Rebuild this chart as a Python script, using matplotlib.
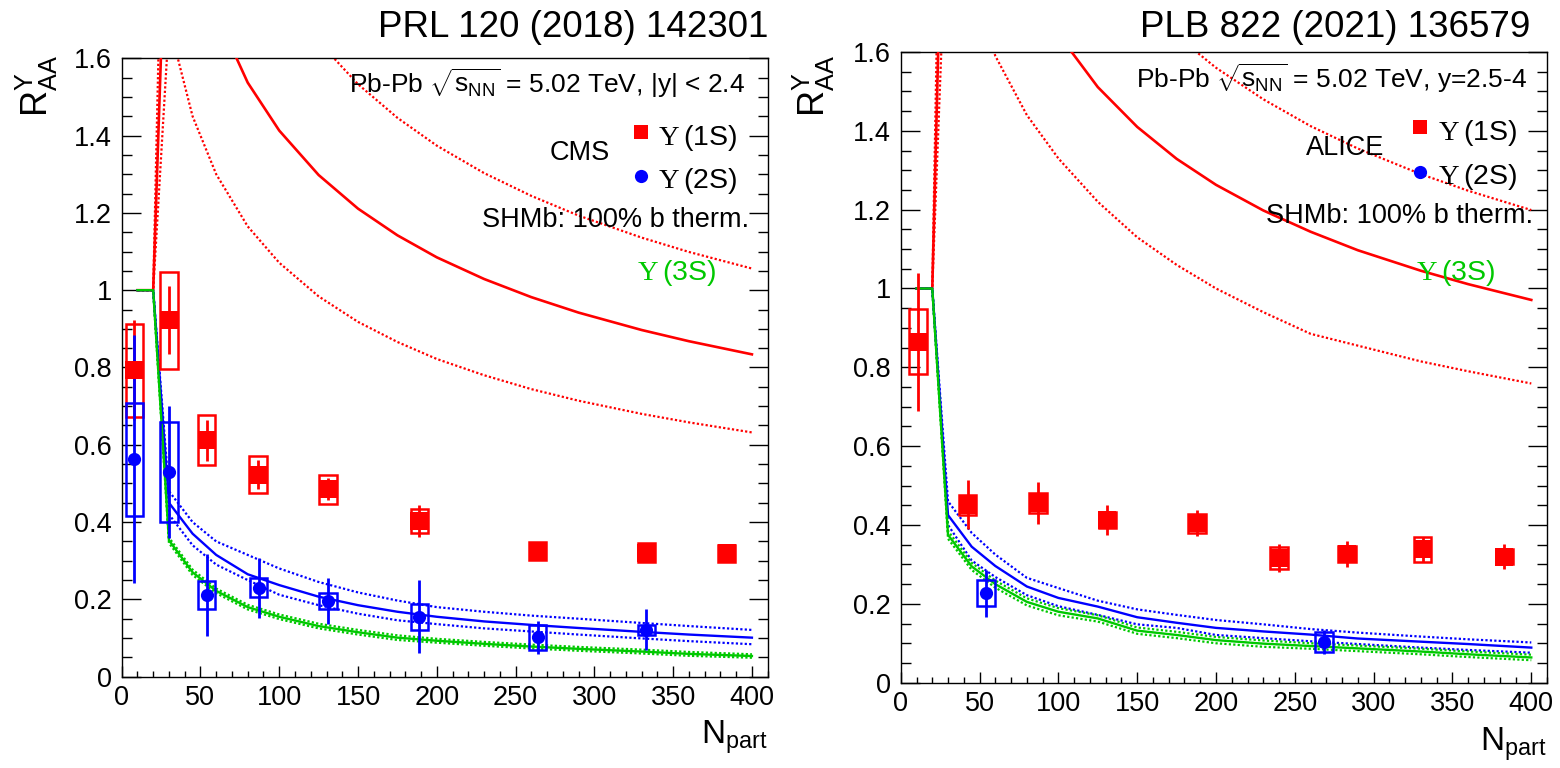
import matplotlib
matplotlib.use("Agg")
import matplotlib.pyplot as plt
from matplotlib.patches import Rectangle
from matplotlib.ticker import MultipleLocator, FuncFormatter

plt.rcParams['font.family'] = ['Liberation Sans', 'DejaVu Sans']
plt.rcParams['mathtext.fontset'] = 'custom'
plt.rcParams['mathtext.rm'] = 'Liberation Serif'
plt.rcParams['mathtext.sf'] = 'Liberation Sans'

# ---- SHMb model curves (N_part grid shared by both panels)
theory_npart = [10, 20, 30, 45, 60, 80, 100, 125, 150, 175, 200, 230, 260, 290, 330, 360, 400]

# CMS |y|<2.4
cms_1s_c = [1, 1, 2.23, 1.913, 1.715, 1.537, 1.413, 1.298, 1.211, 1.142, 1.085, 1.029, 0.982, 0.942, 0.897, 0.868, 0.834]
cms_1s_hi = [1, 1, 2.82, 2.42, 2.17, 1.946, 1.789, 1.643, 1.533, 1.446, 1.374, 1.303, 1.244, 1.193, 1.136, 1.099, 1.056]
cms_1s_lo = [1, 1, 1.69, 1.45, 1.30, 1.165, 1.071, 0.984, 0.918, 0.866, 0.822, 0.780, 0.744, 0.714, 0.680, 0.658, 0.632]
cms_2s_c = [1, 1, 0.45, 0.37, 0.315, 0.265, 0.237, 0.207, 0.185, 0.168, 0.155, 0.143, 0.134, 0.126, 0.116, 0.109, 0.101]
cms_2s_hi = [1, 1, 0.48, 0.40, 0.35, 0.315, 0.28, 0.245, 0.218, 0.197, 0.180, 0.168, 0.158, 0.150, 0.139, 0.131, 0.121]
cms_2s_lo = [1, 1, 0.42, 0.34, 0.29, 0.25, 0.212, 0.185, 0.163, 0.146, 0.136, 0.125, 0.117, 0.109, 0.099, 0.092, 0.084]
cms_3s_c = [1, 1, 0.353, 0.27, 0.222, 0.18, 0.155, 0.131, 0.115, 0.101, 0.093, 0.085, 0.078, 0.072, 0.065, 0.059, 0.0535]
cms_3s_hi = [1, 1, 0.36, 0.277, 0.228, 0.186, 0.161, 0.137, 0.121, 0.107, 0.098, 0.090, 0.083, 0.077, 0.070, 0.064, 0.058]
cms_3s_lo = [1, 1, 0.346, 0.263, 0.216, 0.174, 0.149, 0.125, 0.109, 0.095, 0.088, 0.080, 0.073, 0.067, 0.060, 0.054, 0.049]

# ALICE 2.5<y<4
alice_1s_c = [1, 1, 2.60, 2.23, 2.00, 1.79, 1.645, 1.511, 1.41, 1.329, 1.263, 1.198, 1.144, 1.097, 1.045, 1.011, 0.971]
alice_1s_hi = [1, 1, 3.21, 2.75, 2.465, 2.21, 2.03, 1.866, 1.741, 1.641, 1.56, 1.48, 1.412, 1.355, 1.29, 1.248, 1.199]
alice_1s_lo = [1, 1, 2.05, 1.78, 1.59, 1.44, 1.33, 1.22, 1.13, 1.06, 1.0, 0.94, 0.885, 0.855, 0.815, 0.79, 0.759]
alice_2s_c = [1, 1, 0.425, 0.345, 0.296, 0.244, 0.215, 0.193, 0.166, 0.152, 0.139, 0.130, 0.122, 0.112, 0.104, 0.098, 0.089]
alice_2s_hi = [1, 1, 0.46, 0.38, 0.325, 0.266, 0.24, 0.208, 0.186, 0.172, 0.159, 0.148, 0.136, 0.127, 0.117, 0.110, 0.102]
alice_2s_lo = [1, 1, 0.40, 0.31, 0.268, 0.222, 0.194, 0.172, 0.148, 0.139, 0.121, 0.113, 0.105, 0.098, 0.089, 0.083, 0.076]
alice_3s_c = [1, 1, 0.375, 0.295, 0.25, 0.205, 0.18, 0.163, 0.132, 0.121, 0.108, 0.099, 0.093, 0.087, 0.079, 0.072, 0.064]
alice_3s_hi = [1, 1, 0.385, 0.304, 0.259, 0.214, 0.189, 0.171, 0.140, 0.129, 0.116, 0.107, 0.100, 0.094, 0.086, 0.079, 0.071]
alice_3s_lo = [1, 1, 0.365, 0.286, 0.241, 0.196, 0.171, 0.155, 0.124, 0.113, 0.100, 0.091, 0.086, 0.080, 0.072, 0.065, 0.057]

# ---- data points
cms_1s_npart = [8, 30, 54, 86.5, 131, 189, 264, 333, 384]
cms_1s_raa = [0.793, 0.922, 0.612, 0.523, 0.485, 0.402, 0.325, 0.321, 0.32]
cms_1s_stat = [0.13, 0.088, 0.053, 0.038, 0.028, 0.041, 0.01, 0.01, 0.008]
cms_1s_syst = [0.12, 0.125, 0.065, 0.048, 0.038, 0.031, 0.023, 0.024, 0.022]

cms_2s_npart = [8, 30, 54, 87, 131, 189, 264, 333]
cms_2s_raa = [0.563, 0.530, 0.211, 0.230, 0.196, 0.155, 0.102, 0.121]
cms_2s_stat = [0.32, 0.17, 0.106, 0.078, 0.06, 0.094, 0.043, 0.053]
cms_2s_syst = [0.146, 0.13, 0.037, 0.025, 0.02, 0.034, 0.033, 0.013]

alice_1s_npart = [11, 42.5, 87, 131, 188, 240, 283, 331, 383]
alice_1s_raa = [0.865, 0.451, 0.456, 0.413, 0.404, 0.317, 0.326, 0.338, 0.32]
alice_1s_stat = [0.175, 0.062, 0.054, 0.038, 0.033, 0.036, 0.033, 0.032, 0.031]
alice_1s_syst = [0.083, 0.025, 0.025, 0.02, 0.025, 0.028, 0.02, 0.032, 0.02]

alice_2s_npart = [54, 268.5]
alice_2s_raa = [0.227, 0.104]
alice_2s_stat = [0.06, 0.03]
alice_2s_syst = [0.033, 0.025]

RED = '#ff0000'
BLUE = '#0000ff'
GREEN = '#00c800'
W, H = 1560, 768


def px(x, y):
    # pixel position -> figure fraction
    return x / W, 1 - y / H


def style_axes(ax):
    ax.set_xlim(0, 410)
    ax.set_ylim(0, 1.6)
    ax.xaxis.set_major_locator(MultipleLocator(50))
    ax.xaxis.set_minor_locator(MultipleLocator(10))
    ax.yaxis.set_major_locator(MultipleLocator(0.2))
    ax.yaxis.set_minor_locator(MultipleLocator(0.05))
    ax.yaxis.set_major_formatter(FuncFormatter(lambda v, p: f"{v:g}"))
    ax.tick_params(axis='y', which='both', direction='in', right=True, left=True,
                   labelsize=19.5, pad=7)
    ax.tick_params(axis='y', which='major', length=14, width=1)
    ax.tick_params(axis='y', which='minor', length=7, width=1)
    ax.tick_params(axis='x', which='both', direction='in', top=False,
                   labelsize=19.5, pad=6)
    ax.tick_params(axis='x', which='major', length=8, width=1)
    ax.tick_params(axis='x', which='minor', length=4, width=1)
    for s in ax.spines.values():
        s.set_linewidth(1.0)


def draw_theory(ax, c, hi, lo, color, lw):
    ax.plot(theory_npart, hi, color=color, lw=1.6, ls=(0, (1, 1)), zorder=2)
    ax.plot(theory_npart, lo, color=color, lw=1.6, ls=(0, (1, 1)), zorder=2)
    ax.plot(theory_npart, c, color=color, lw=lw, zorder=3)


def draw_points(ax, n, r, stat, syst, color, marker, ms):
    for xi, yi, si in zip(n, r, syst):
        ax.add_patch(Rectangle((xi - 5.5, yi - si), 11, 2 * si, fill=False,
                               ec=color, lw=1.8, zorder=4))
    ax.errorbar(n, r, yerr=stat, fmt=marker, color=color, ms=ms, mew=0,
                elinewidth=2, capsize=3, capthick=2, zorder=5)


def legend(fig, ax, x_sym, y1, y2, x_txt):
    ax.plot([x_sym / W], [1 - y1 / H], 's', color=RED, ms=10, mew=0,
            transform=fig.transFigure, clip_on=False)
    ax.plot([x_sym / W], [1 - y2 / H], 'o', color=BLUE, ms=9.5, mew=0,
            transform=fig.transFigure, clip_on=False)
    fig.text(*px(x_txt, y1 + 13), r"$\Upsilon\,$(1S)", fontsize=20.5, va='baseline')
    fig.text(*px(x_txt, y2 + 12), r"$\Upsilon\,$(2S)", fontsize=20.5, va='baseline')


def main():
    fig = plt.figure(figsize=(15.6, 7.68), dpi=100)
    ax1 = fig.add_axes([0.0780, 0.1189, 0.4141, 0.8052])
    ax2 = fig.add_axes([0.5774, 0.1111, 0.4143, 0.8212])

    for ax in (ax1, ax2):
        style_axes(ax)

    draw_theory(ax1, cms_1s_c, cms_1s_hi, cms_1s_lo, RED, 1.9)
    draw_theory(ax1, cms_2s_c, cms_2s_hi, cms_2s_lo, BLUE, 1.7)
    draw_theory(ax1, cms_3s_c, cms_3s_hi, cms_3s_lo, GREEN, 1.7)
    draw_points(ax1, cms_1s_npart, cms_1s_raa, cms_1s_stat, cms_1s_syst, RED, 's', 12.5)
    draw_points(ax1, cms_2s_npart, cms_2s_raa, cms_2s_stat, cms_2s_syst, BLUE, 'o', 9.5)

    draw_theory(ax2, alice_1s_c, alice_1s_hi, alice_1s_lo, RED, 1.9)
    draw_theory(ax2, alice_2s_c, alice_2s_hi, alice_2s_lo, BLUE, 1.7)
    draw_theory(ax2, alice_3s_c, alice_3s_hi, alice_3s_lo, GREEN, 1.7)
    draw_points(ax2, alice_1s_npart, alice_1s_raa, alice_1s_stat, alice_1s_syst, RED, 's', 13)
    draw_points(ax2, alice_2s_npart, alice_2s_raa, alice_2s_stat, alice_2s_syst, BLUE, 'o', 9.5)

    # titles
    fig.text(*px(768, 37), "PRL 120 (2018) 142301", fontsize=26.5, ha='right', va='baseline')
    fig.text(*px(1530, 37), "PLB 822 (2021) 136579", fontsize=26.5, ha='right', va='baseline')

    # axis titles
    ylab = r"$\mathsf{R}_{\mathsf{AA}}^{\mathsf{Υ}}$"
    fig.text(*px(37, 55), ylab, fontsize=26, rotation=90, ha='center', va='top')
    fig.text(*px(814, 55), ylab, fontsize=26, rotation=90, ha='center', va='top')
    xlab = r"N$_{\mathsf{part}}$"
    fig.text(*px(768, 743), xlab, fontsize=24, ha='right', va='baseline')
    fig.text(*px(1547, 750), xlab, fontsize=24, ha='right', va='baseline')

    # left panel annotations
    fig.text(*px(745, 93), r"Pb-Pb $\sqrt{\mathsf{s}_{\mathsf{NN}}}$ = 5.02 TeV, |y| < 2.4",
             fontsize=19, ha='right', va='baseline')
    fig.text(*px(580, 160), "CMS", fontsize=19.5, ha='center', va='baseline')
    legend(fig, ax1, 641, 132, 176, 658)
    fig.text(*px(749, 227), "SHMb: 100% b therm.", fontsize=19.5, ha='right', va='baseline')
    fig.text(*px(637, 280), r"$\Upsilon\,$(3S)", fontsize=20.5, color=GREEN, va='baseline')

    # right panel annotations
    fig.text(*px(1527, 88), r"Pb-Pb $\sqrt{\mathsf{s}_{\mathsf{NN}}}$ = 5.02 TeV, y=2.5-4",
             fontsize=19, ha='right', va='baseline')
    fig.text(*px(1345, 155), "ALICE", fontsize=19.5, ha='center', va='baseline')
    legend(fig, ax2, 1420, 127, 172, 1438)
    fig.text(*px(1533, 223), "SHMb: 100% b therm.", fontsize=19.5, ha='right', va='baseline')
    fig.text(*px(1416, 280), r"$\Upsilon\,$(3S)", fontsize=20.5, color=GREEN, va='baseline')

    fig.savefig("out.png", dpi=100)


if __name__ == "__main__":
    main()
